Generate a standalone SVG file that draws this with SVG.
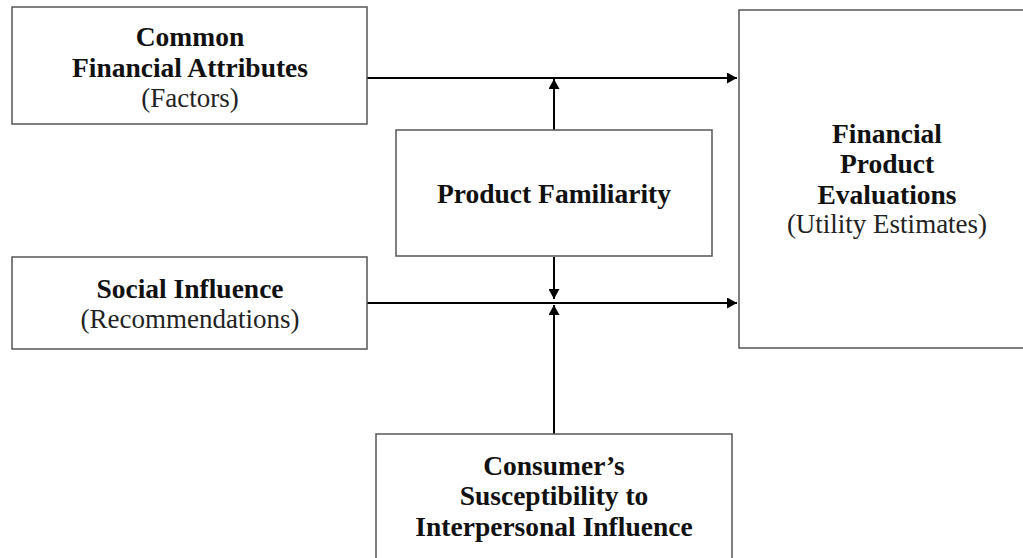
<svg xmlns="http://www.w3.org/2000/svg" width="1023" height="558" viewBox="0 0 1023 558">
<style>
.box{fill:#fff;stroke:#555;stroke-width:1.5}
.b{font-family:"Liberation Serif",serif;font-weight:bold;font-size:27.5px;fill:#111;text-anchor:middle}
.r{font-family:"Liberation Serif",serif;font-size:27px;fill:#222;text-anchor:middle}
.ln{stroke:#000;stroke-width:2;fill:none}
</style>
<defs>
<marker id="ah" viewBox="0 0 10 11" refX="10" refY="5.5" markerWidth="10" markerHeight="11" markerUnits="userSpaceOnUse" orient="auto">
<path d="M0,0 L10,5.5 L0,11 Z" fill="#000"/>
</marker>
</defs>
<rect width="1023" height="558" fill="#fff"/>
<g id="connectors">
<line class="ln" x1="367" y1="78" x2="737" y2="78" marker-end="url(#ah)"/>
<line class="ln" x1="367" y1="303" x2="737" y2="303" marker-end="url(#ah)"/>
<line class="ln" x1="554" y1="130" x2="554" y2="79" marker-end="url(#ah)"/>
<line class="ln" x1="554" y1="257" x2="554" y2="299" marker-end="url(#ah)"/>
<line class="ln" x1="554" y1="434" x2="554" y2="305" marker-end="url(#ah)"/>
</g>
<g id="common">
<rect class="box" x="12" y="7" width="355" height="117"/>
<text class="b" x="190" y="46">Common</text>
<text class="b" x="190" y="77">Financial Attributes</text>
<text class="r" x="190" y="107">(Factors)</text>
</g>
<g id="social">
<rect class="box" x="12" y="257" width="355" height="92"/>
<text class="b" x="190" y="298">Social Influence</text>
<text class="r" x="190" y="328">(Recommendations)</text>
</g>
<g id="familiarity">
<rect class="box" x="396" y="130" width="316" height="126"/>
<text class="b" x="554" y="203">Product Familiarity</text>
</g>
<g id="evaluations">
<rect class="box" x="739" y="10" width="300" height="338"/>
<text class="b" x="887" y="143">Financial</text>
<text class="b" x="887" y="173">Product</text>
<text class="b" x="887" y="204">Evaluations</text>
<text class="r" x="887" y="233">(Utility Estimates)</text>
</g>
<g id="susceptibility">
<rect class="box" x="376" y="434" width="356" height="140"/>
<text class="b" x="554" y="475">Consumer’s</text>
<text class="b" x="554" y="505">Susceptibility to</text>
<text class="b" x="554" y="536">Interpersonal Influence</text>
</g>
</svg>
